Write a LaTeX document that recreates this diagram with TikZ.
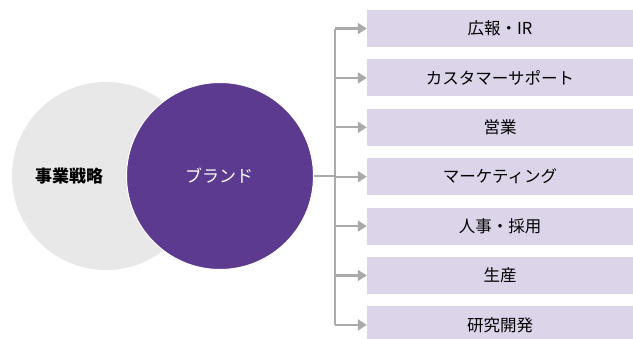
\documentclass[tikz,border=0pt]{standalone}
\usepackage{fontspec}
\setmainfont{Noto Sans CJK JP}
\usepackage{xcolor}
\usepackage{tikz}
\usetikzlibrary{shapes,arrows.meta,positioning,calc}
\definecolor{strategygray}{RGB}{232, 232, 232}
\definecolor{brandpurple}{RGB}{92, 58, 143}
\definecolor{deptlavender}{RGB}{220, 212, 233}
\definecolor{linkgray}{RGB}{170, 170, 170}

\begin{document}
\begin{tikzpicture}[x=1pt,y=-1pt,node distance=12pt,>={Triangle[length=9pt,width=11pt]}]
\tikzset{dept/.style={rectangle,fill=deptlavender,minimum width=266pt,minimum height=37pt,inner sep=0pt,font=\fontsize{16.5}{16.5}\selectfont},
  link/.style={draw=linkgray,line width=2.2pt}}
\useasboundingbox (0,0) rectangle (633,338);
% circles
\node[circle,fill=strategygray,minimum size=188pt,inner sep=0pt](strategy) at (106,176){};
\node[circle,fill=brandpurple,draw=white,line width=1pt,minimum size=187pt,inner sep=0pt](brand) at (220,176){};
\node[font=\bfseries\fontsize{17}{17}\selectfont](strategytext) at (69,176){事業戦略};
\node[text=white,font=\fontsize{17}{17}\selectfont](brandtext) at (219,176){ブランド};
% departments
\node[dept](pr) at (500,28.5){広報・IR};
\node[dept,below=of pr](support){カスタマーサポート};
\node[dept,below=of support](sales){営業};
\node[dept,below=of sales](marketing){マーケティング};
\node[dept,below=of marketing](hr){人事・採用};
\node[dept,below=of hr](production){生産};
\node[dept,below=of production](rnd){研究開発};
% links
\coordinate(split) at (335,176);
\draw[link](brand.east)--(split);
\draw[link](split |- pr.west)--(split |- rnd.west);
\foreach \d in {pr,support,sales,marketing,hr,production,rnd}
  \draw[link,->](split |- \d.west)--(\d.west);
\end{tikzpicture}
\end{document}
